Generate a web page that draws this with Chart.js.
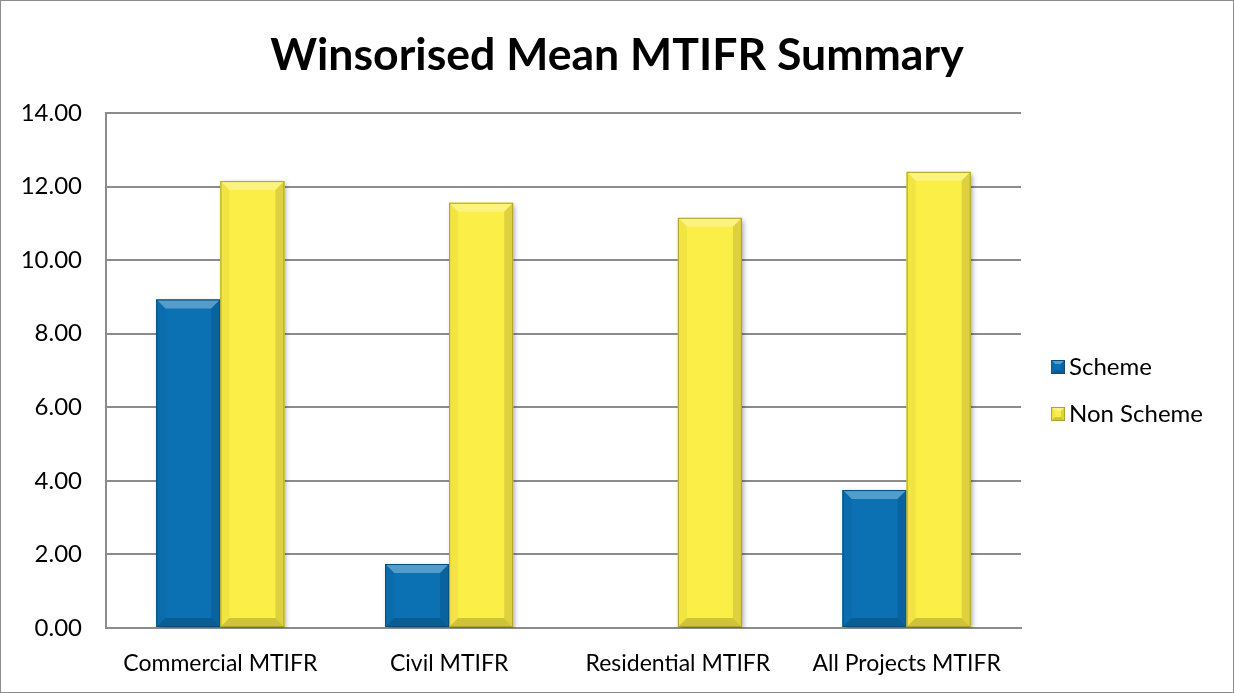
<!DOCTYPE html>
<html>
<head>
<meta charset="utf-8">
<script src="https://cdn.jsdelivr.net/npm/chart.js@4.4.1/dist/chart.umd.min.js"></script>
<style>
  html, body { margin: 0; padding: 0; background: #fff; }
  #wrap { width: 1232px; height: 691px; border: 1px solid #8c8c8c; position: relative; }
  canvas { display: block; }
</style>
</head>
<body>
<div id="wrap"><canvas id="c" width="1232" height="691"></canvas></div>
<script>
const chartTitle = 'Winsorised Mean MTIFR Summary';
const categories = ['Commercial MTIFR', 'Civil MTIFR', 'Residential MTIFR', 'All Projects MTIFR'];
const schemeValues = [8.93, 1.74, 0, 3.75];
const nonSchemeValues = [12.15, 11.56, 11.15, 12.40];
const seriesNames = ['Scheme', 'Non Scheme'];
const seriesColors = ['#0B71B3', '#FBEE46'];

const FONT = 'Lato, "Open Sans", sans-serif';

function shade(hex, amt) {
  const n = parseInt(hex.slice(1), 16);
  let r = (n >> 16) & 255, g = (n >> 8) & 255, b = n & 255;
  const f = c => Math.max(0, Math.min(255, Math.round(amt >= 0 ? c + (255 - c) * amt : c * (1 + amt))));
  return `rgb(${f(r)},${f(g)},${f(b)})`;
}

function bevelRect(ctx, l, t, w, h, c, dMax) {
  const r = l + w, b = t + h;
  const d = Math.min(dMax, h / 2, w / 2);
  ctx.fillStyle = c;
  ctx.fillRect(l, t, w, h);
  ctx.fillStyle = shade(c, 0.3);
  ctx.beginPath(); ctx.moveTo(l, t); ctx.lineTo(r, t); ctx.lineTo(r - d, t + d); ctx.lineTo(l + d, t + d); ctx.closePath(); ctx.fill();
  ctx.fillStyle = shade(c, -0.04);
  ctx.beginPath(); ctx.moveTo(l, t); ctx.lineTo(l + d, t + d); ctx.lineTo(l + d, b - d); ctx.lineTo(l, b); ctx.closePath(); ctx.fill();
  ctx.fillStyle = shade(c, -0.12);
  ctx.beginPath(); ctx.moveTo(r, t); ctx.lineTo(r - d, t + d); ctx.lineTo(r - d, b - d); ctx.lineTo(r, b); ctx.closePath(); ctx.fill();
  ctx.fillStyle = shade(c, -0.18);
  ctx.beginPath(); ctx.moveTo(l, b); ctx.lineTo(r, b); ctx.lineTo(r - d, b - d); ctx.lineTo(l + d, b - d); ctx.closePath(); ctx.fill();
  ctx.strokeStyle = shade(c, -0.32);
  ctx.lineWidth = 1;
  ctx.strokeRect(l + 0.5, t + 0.5, w - 1, h - 1);
}

// legend marker images: a beveled square drawn at the right part of a wider transparent canvas
function makeMarker(color) {
  const cv = document.createElement('canvas');
  cv.width = 32; cv.height = 14;
  const g = cv.getContext('2d');
  bevelRect(g, 18, 0, 14, 14, color, 4);
  return cv;
}
const markers = seriesColors.map(makeMarker);

const bevelPlugin = {
  id: 'bevel',
  afterDatasetsDraw(chart) {
    const ctx = chart.ctx;
    chart.data.datasets.forEach((ds, i) => {
      const meta = chart.getDatasetMeta(i);
      meta.data.forEach(el => {
        const p = el.getProps(['x', 'y', 'base', 'width'], true);
        const l = p.x - p.width / 2;
        const t = Math.min(p.y, p.base), b = Math.max(p.y, p.base);
        if (b - t < 1) return;
        ctx.save();
        bevelRect(ctx, l, t, p.width, b - t, ds.backgroundColor, 9);
        ctx.restore();
      });
    });
  }
};

const shadowPlugin = {
  id: 'barShadow',
  beforeDatasetsDraw(chart) {
    const ctx = chart.ctx;
    ctx.save();
    ctx.shadowColor = 'rgba(0,0,0,0.35)';
    ctx.shadowBlur = 5;
    ctx.shadowOffsetX = 2;
    ctx.shadowOffsetY = 2;
  },
  afterDatasetsDraw(chart) {
    chart.ctx.restore();
  }
};

// shift legend block; center title on the full canvas width
const layoutTweak = {
  id: 'layoutTweak',
  afterLayout(chart) {
    const lg = chart.legend;
    if (lg) { lg.top += 44; lg.bottom += 44; lg.left -= 3; lg.right -= 3; }
    const tb = chart.titleBlock;
    if (tb) { tb.left = 0; tb.right = chart.width; }
  }
};

new Chart(document.getElementById('c'), {
  type: 'bar',
  data: {
    labels: categories,
    datasets: [
      { label: seriesNames[0], data: schemeValues, backgroundColor: seriesColors[0], borderWidth: 0 },
      { label: seriesNames[1], data: nonSchemeValues, backgroundColor: seriesColors[1], borderWidth: 0 }
    ]
  },
  options: {
    responsive: false,
    animation: false,
    events: [],
    layout: { padding: { left: 0, right: 17, top: 0, bottom: 0 } },
    datasets: { bar: { barPercentage: 1.0, categoryPercentage: 0.56 } },
    plugins: {
      title: {
        display: true,
        text: chartTitle,
        color: '#000',
        font: { family: FONT, size: 44.6, weight: 'bold' },
        padding: { top: 28, bottom: 30.5 }
      },
      legend: {
        position: 'right',
        align: 'center',
        labels: {
          color: '#000',
          font: { family: FONT, size: 24 },
          boxWidth: 16, boxHeight: 14,
          padding: 23,
          usePointStyle: true,
          generateLabels(chart) {
            return chart.data.datasets.map((ds, i) => ({
              text: ds.label,
              pointStyle: markers[i],
              fillStyle: ds.backgroundColor,
              strokeStyle: ds.backgroundColor,
              lineWidth: 0,
              datasetIndex: i,
              hidden: false
            }));
          }
        }
      },
      tooltip: { enabled: false }
    },
    scales: {
      x: {
        grid: { display: false, drawTicks: false },
        border: { display: true, color: '#8c8c8c', width: 2 },
        ticks: { color: '#000', font: { family: FONT, size: 23 }, padding: 22, maxRotation: 0 },
        afterFit(scale) { scale.height = 64; }
      },
      y: {
        min: 0, max: 14,
        ticks: {
          stepSize: 2,
          color: '#000',
          font: { family: FONT, size: 24 },
          padding: 24,
          callback: v => Number(v).toFixed(2)
        },
        grid: { color: '#8c8c8c', lineWidth: 2, drawTicks: false },
        border: { display: true, color: '#8c8c8c', width: 2 },
        afterFit(scale) { scale.width = 105; }
      }
    }
  },
  plugins: [shadowPlugin, bevelPlugin, layoutTweak]
});
</script>
</body>
</html>
